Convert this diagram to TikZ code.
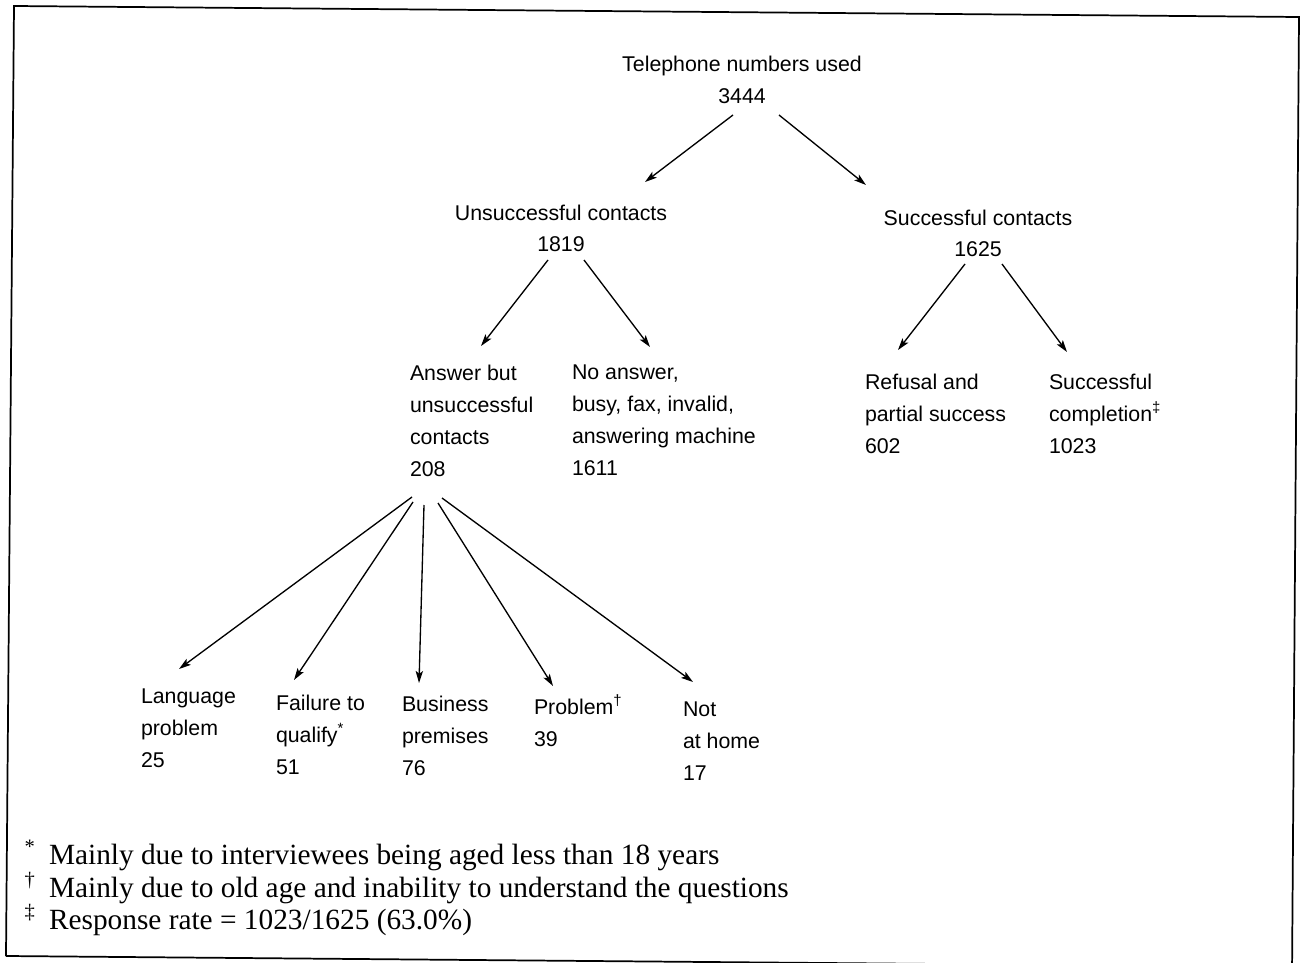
\documentclass[tikz,border=0pt]{standalone}
\usepackage{fontspec}
\setmainfont{Liberation Sans}
\newfontfamily\timesf{Liberation Serif}
\usetikzlibrary{arrows.meta}
\begin{document}
\begin{tikzpicture}[x=0.75pt,y=-0.75pt,
  lbl/.style={inner sep=0pt, outer sep=0pt, align=left, anchor=north west, font=\fontsize{16}{24}\selectfont},
  ctr/.style={lbl, align=center, anchor=north},
  arr/.style={line width=1pt, -{Stealth[length=9pt,width=5.5pt,inset=2pt]}},
  note/.style={inner sep=0pt, outer sep=0pt, anchor=base west, font=\timesf\fontsize{22}{26}\selectfont},
  frame/.style={line width=1.3pt}]
\clip (0,0) rectangle (1300,963);
% frame (slightly tilted, as scanned)
\draw[frame] (6,956) -- (14,6) -- (1299,17) -- (1292,975);
\draw[frame] (6,956) -- (1292,967);
% nodes
\node[ctr] (top) at (742,49.6) {\strut Telephone numbers used\\3444};
\node[ctr] (uns) at (561,197.6) {\strut Unsuccessful contacts\\1819};
\node[ctr] (suc) at (978,202.6) {\strut Successful contacts\\1625};
\node[lbl] (ans) at (410,357.6) {\strut Answer but\\unsuccessful\\contacts\\208};
\node[lbl] (noa) at (572,356.6) {\strut No answer,\\busy, fax, invalid,\\answering machine\\1611};
\node[lbl] (ref) at (865,366.6) {\strut Refusal and\\partial success\\602};
\node[lbl] (com) at (1049,366.6) {\strut Successful\\completion\textsuperscript{‡}\\1023};
\node[lbl] (lan) at (141,680.6) {\strut Language\\problem\\25};
\node[lbl] (fai) at (276,687.6) {\strut Failure to\\qualify\textsuperscript{*}\\51};
\node[lbl] (bus) at (402,688.6) {\strut Business\\premises\\76};
\node[lbl] (pro) at (534,691.6) {\strut Problem\textsuperscript{†}\\39};
\node[lbl] (nah) at (683,693.6) {\strut Not\\at home\\17};
% connectors
\draw[arr] ([shift={(-9,65.4)}]top.north) -- ([shift={(84,-15.6)}]uns.north);
\draw[arr] ([shift={(37,65.4)}]top.north) -- ([shift={(-112,-17.6)}]suc.north);
\draw[arr] ([shift={(-13,62.4)}]uns.north) -- ([shift={(71,-11.6)}]ans.north west);
\draw[arr] ([shift={(23,62.4)}]uns.north) -- ([shift={(78,-9.6)}]noa.north west);
\draw[arr] ([shift={(-13,61.4)}]suc.north) -- ([shift={(33,-16.6)}]ref.north west);
\draw[arr] ([shift={(24,61.4)}]suc.north) -- ([shift={(18,-14.6)}]com.north west);
\draw[arr] ([shift={(2,139.4)}]ans.north west) -- ([shift={(38,-11.6)}]lan.north west);
\draw[arr] ([shift={(3,144.4)}]ans.north west) -- ([shift={(18,-7.6)}]fai.north west);
\draw[arr] ([shift={(14,147.4)}]ans.north west) -- ([shift={(17,-5.6)}]bus.north west);
\draw[arr] ([shift={(28,145.4)}]ans.north west) -- ([shift={(19,-5.6)}]pro.north west);
\draw[arr] ([shift={(32,140.4)}]ans.north west) -- ([shift={(10,-11.6)}]nah.north west);
% footnotes
\node[note] (fn1) at (49,864) {\llap{\textsuperscript{*}\hspace{10pt}}Mainly due to interviewees being aged less than 18 years};
\node[note] (fn2) at (49,897) {\llap{\textsuperscript{†}\hspace{10pt}}Mainly due to old age and inability to understand the questions};
\node[note] (fn3) at (49,929) {\llap{\textsuperscript{‡}\hspace{10pt}}Response rate = 1023/1625 (63.0\%)};
\end{tikzpicture}
\end{document}
